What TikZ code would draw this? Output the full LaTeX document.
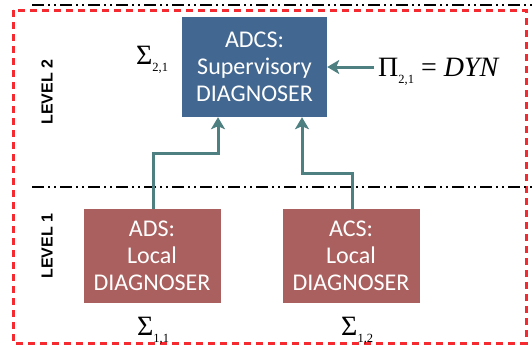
\documentclass[tikz,border=0pt]{standalone}
\usepackage{fontspec}
\setmainfont{Carlito}
\newfontfamily\tnr{Liberation Serif}
\newfontfamily\lvlfont{Liberation Sans}
\usetikzlibrary{arrows.meta}
\definecolor{supblue}{HTML}{426791}
\definecolor{locred}{HTML}{AA605E}
\definecolor{arrteal}{HTML}{4E8082}
\definecolor{frame}{HTML}{F52A30}
\newcommand{\symlab}[2]{{\tnr\fontsize{28}{28}\selectfont #1\raisebox{-7pt}{\fontsize{12.5}{12.5}\selectfont #2}}}
\tikzset{
  diagbox/.style={rectangle, draw=none, text=white, align=center,
    font=\fontsize{24}{27}\selectfont, inner sep=0pt},
  supbox/.style={diagbox, fill=supblue, minimum width=145pt, minimum height=100pt},
  locbox/.style={diagbox, fill=locred, minimum width=137pt, minimum height=94pt},
  flow/.style={draw=arrteal, line width=3pt, -{Stealth[length=12pt,width=14pt,inset=3pt]}},
  levelsep/.style={line width=1.1pt, dash pattern=on 12pt off 4pt on 2pt off 4pt on 2pt off 4pt},
  levellab/.style={rotate=90, font=\lvlfont\bfseries\fontsize{16}{16}\selectfont},
  symnode/.style={anchor=base west, inner sep=0pt}
}
\begin{document}
\begin{tikzpicture}[x=1pt,y=-1pt]
\useasboundingbox (0,0) rectangle (532,349);
% frame and level separators
\draw[frame, line width=3pt, dash pattern=on 7pt off 5pt] (13,10) rectangle (526,343);
\coordinate (t1) at (32,5); \coordinate (t2) at (532,5);
\coordinate (m1) at (32,187); \coordinate (m2) at (532,187);
\draw[levelsep] (t1) -- (t2);
\draw[levelsep] (m1) -- (m2);
% level labels
\node[levellab] (lv2) at (47,92) {LEVEL 2};
\node[levellab] (lv1) at (47,246) {LEVEL 1};
% boxes
\node[supbox] (sup) at (254.5,67) {ADCS:\\Supervisory\\DIAGNOSER};
\node[locbox] (ads) at (152,256) {ADS:\\Local\\DIAGNOSER};
\node[locbox] (acs) at (351,256) {ACS:\\Local\\DIAGNOSER};
% labels
\node[symnode] (s21) at (136,64) {\symlab{Σ}{2,1}};
\node[symnode] (s11) at (137,335) {\symlab{Σ}{1,1}};
\node[symnode] (s12) at (341,335) {\symlab{Σ}{1,2}};
\node[symnode] (pi) at (378,76) {\symlab{Π}{2,1}{\tnr\fontsize{28}{28}\selectfont\ =\ \textit{DYN}}};
% connectors
\draw[flow] (ads.north -| 153,0) -- (153,153) -- (218,153) -- (sup.south -| 218,0);
\draw[flow] (acs.north -| 352,0) -- (352,173) -- (302,173) -- (sup.south -| 302,0);
\draw[flow] ([xshift=-4pt]pi.west |- sup.east) -- (sup.east);
\end{tikzpicture}
\end{document}
